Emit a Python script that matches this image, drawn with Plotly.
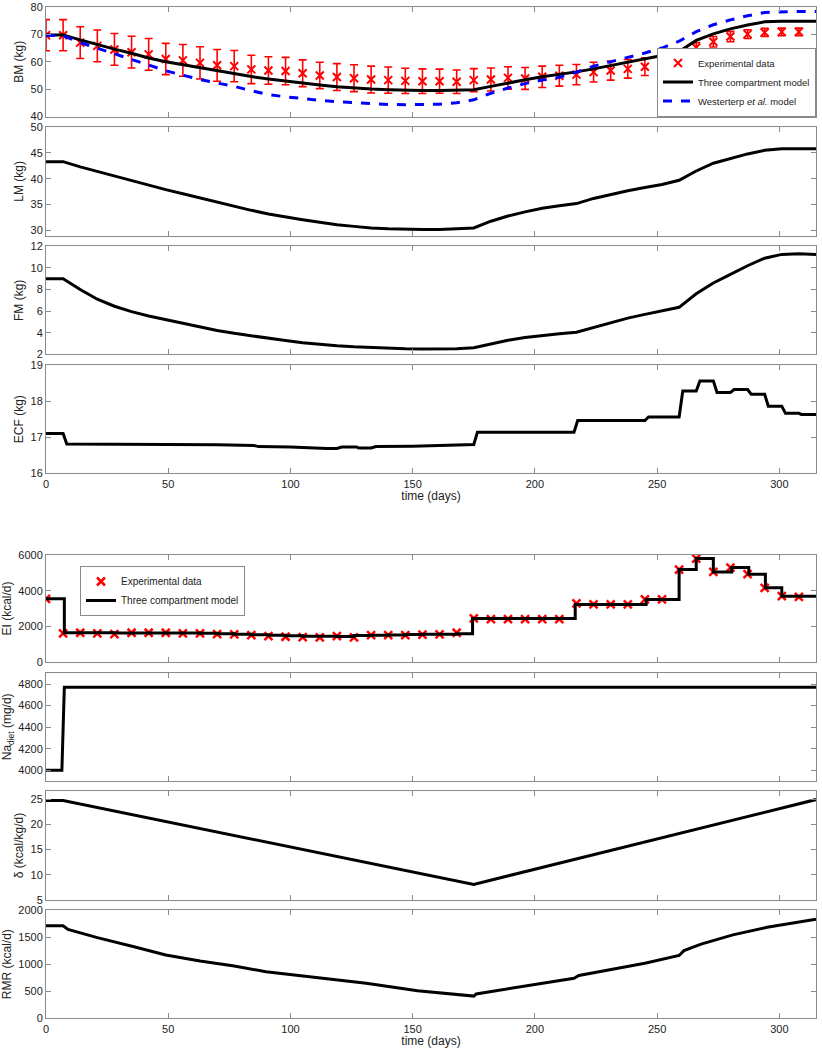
import plotly.graph_objects as go

W, H = 822, 1050

# ---------------- data ----------------
exp_days = [0, 7, 14, 21, 28, 35, 42, 49, 56, 63, 70, 77, 84, 91, 98, 105, 112, 119, 126, 133,
            140, 147, 154, 161, 168, 175, 182, 189, 196, 203, 210, 217, 224, 231, 238, 245,
            252, 259, 266, 273, 280, 287, 294, 301, 308]
bm_exp = [69.7, 69.7, 67.0, 65.8, 64.5, 63.5, 62.7, 61.0, 60.5, 59.6, 58.7, 58.4, 57.2, 56.8,
          56.6, 55.8, 55.0, 54.4, 54.0, 53.5, 53.3, 53.0, 52.9, 52.9, 52.7, 53.3, 53.5, 54.1,
          53.9, 54.5, 54.9, 55.3, 56.2, 56.8, 57.4, 58.2, 59.4, 61.0, 65.2, 67.3, 69.2, 70.1,
          70.7, 70.9, 70.9]
bm_err = [5.7, 5.7, 5.8, 5.8, 5.8, 5.8, 5.8, 5.7, 5.8, 5.9, 5.8, 5.7, 5.2, 5.0, 5.0, 4.9,
          4.8, 4.9, 4.9, 4.9, 4.8, 4.6, 4.5, 4.4, 4.3, 4.2, 4.2, 4.1, 4.0, 3.9, 3.8, 3.7,
          3.6, 3.5, 3.4, 3.2, 2.8, 2.2, 1.8, 1.9, 1.9, 1.6, 1.5, 1.4, 1.4]

model_days = [0, 7, 14, 21, 28, 35, 42, 49, 56, 63, 70, 77, 84, 91, 98, 105, 112, 119, 126, 133,
              140, 147, 154, 161, 168, 175, 182, 189, 196, 203, 210, 217, 224, 231, 238, 245,
              252, 259, 266, 273, 280, 287, 294, 301, 308, 315]
bm_three = [69.8, 69.8, 68.0, 66.2, 64.6, 63.1, 61.4, 60.0, 58.9, 57.7, 56.6, 55.6, 54.6, 53.7,
            52.9, 52.2, 51.5, 50.9, 50.4, 50.0, 49.8, 49.6, 49.5, 49.5, 49.6, 49.8, 51.0, 52.3,
            53.4, 54.5, 55.3, 56.3, 57.4, 58.6, 59.8, 61.0, 62.3, 63.7, 67.8, 70.2, 72.0, 73.4,
            74.6, 74.8, 74.8, 74.8]
bm_west = [69.7, 69.5, 67.0, 65.0, 63.0, 61.0, 58.8, 56.7, 55.0, 53.5, 52.2, 51.0, 49.4, 48.0,
           47.2, 46.5, 45.9, 45.4, 45.0, 44.7, 44.4, 44.3, 44.3, 44.5, 45.0, 46.1, 48.5, 50.4,
           52.0, 53.3, 54.3, 56.2, 58.4, 60.0, 61.5, 63.2, 65.0, 67.5, 71.0, 73.5, 75.3, 76.8,
           78.0, 78.3, 78.4, 78.4]
lm = [43.3, 43.3, 42.3, 41.4, 40.5, 39.6, 38.8, 37.9, 37.1, 36.3, 35.4, 34.6, 33.9, 33.2, 32.6,
      32.1, 31.6, 31.1, 30.8, 30.5, 30.35, 30.25, 30.2, 30.2, 30.3, 30.5, 31.8, 32.8, 33.6, 34.3,
      34.8, 35.2, 36.2, 37.0, 37.7, 38.3, 38.9, 39.7, 41.5, 43.0, 43.9, 44.8, 45.5, 45.8, 45.8,
      45.8]
fm = [9.0, 9.0, 8.0, 7.1, 6.45, 5.95, 5.55, 5.2, 4.85, 4.5, 4.2, 3.94, 3.7, 3.47, 3.27, 3.08,
      2.93, 2.8, 2.7, 2.63, 2.56, 2.52, 2.5, 2.5, 2.52, 2.6, 2.95, 3.3, 3.55, 3.75, 3.9, 4.05,
      4.5, 4.95, 5.35, 5.7, 6.0, 6.35, 7.6, 8.6, 9.4, 10.2, 10.9, 11.25, 11.3, 11.25]

ecf_days = [0, 7, 8.5, 20, 30, 35, 50, 70, 85, 87, 100, 105, 115, 119, 121, 127, 128, 133, 135,
            150, 168, 175, 176.5, 216, 217.5, 245, 246.5, 259, 260.5, 266, 267.5, 273, 274.5,
            280, 281.5, 287, 288.5, 294, 295.5, 301, 302.5, 308, 309, 315]
ecf = [17.1, 17.1, 16.81, 16.81, 16.79, 16.8, 16.8, 16.79, 16.77, 16.74, 16.73, 16.71, 16.69,
       16.69, 16.73, 16.73, 16.7, 16.7, 16.74, 16.75, 16.78, 16.8, 17.14, 17.14, 17.46, 17.46,
       17.56, 17.56, 18.28, 18.28, 18.56, 18.56, 18.24, 18.24, 18.32, 18.32, 18.19, 18.19,
       17.86, 17.86, 17.66, 17.66, 17.63, 17.63]

ei_exp = [3540, 1605, 1640, 1605, 1566, 1640, 1640, 1640, 1605, 1605, 1566, 1550, 1510, 1454,
          1416, 1400, 1380, 1454, 1380, 1510, 1510, 1510, 1530, 1548, 1640, 2444, 2405, 2405,
          2405, 2405, 2405, 3283, 3230, 3230, 3230, 3505, 3505, 5184, 5800, 5050, 5296, 4921,
          4157, 3690, 3652]
ei_step_days = [0, 7.5, 14, 21, 28, 35, 42, 49, 56, 63, 70, 77, 84, 91, 98, 105, 112, 119, 126,
                133, 140, 147, 154, 161, 168, 174.5, 216.5, 245.5, 259, 266, 273, 280.5, 287.5,
                294.3, 301, 315]
ei_model = [3540, 1640, 1640, 1640, 1630, 1630, 1630, 1630, 1620, 1610, 1590, 1560, 1530, 1500,
            1470, 1450, 1440, 1430, 1480, 1500, 1520, 1540, 1550, 1560, 1580, 2440, 3230, 3500,
            5180, 5800, 5050, 5300, 4920, 4160, 3690, 3690]

na_days = [0, 6.5, 7.5, 315]
na_diet = [4000, 4000, 4770, 4770]

delta_days = [0, 7, 175, 315]
delta = [24.7, 24.7, 8.1, 24.9]

rmr_days = [0, 7, 9, 21, 36, 49, 63, 77, 90, 104, 118, 131, 152, 175, 176, 216, 218, 245, 259,
            261, 268, 273, 281, 295, 315]
rmr = [1710, 1710, 1640, 1490, 1320, 1170, 1060, 966, 860, 790, 725, 647, 510, 410, 450, 740,
       790, 1016, 1160, 1250, 1370, 1434, 1540, 1680, 1830]

x_ticks = [0, 50, 100, 150, 200, 250, 300]

# ---------------- layout geometry (reference pixels) ----------------
panels = [  # top, bottom
    (7, 116.5), (127, 235.7), (246.3, 354.3), (365, 473.3),
    (555, 662), (672.7, 781), (791, 900), (910, 1018.3),
]

def px(x):
    return min(1.0, max(0.0, x / W))

def py(y):
    return min(1.0, max(0.0, 1 - y / H))

x_dom = [px(46), px(816)]

ylabels = ["BM (kg)", "LM (kg)", "FM (kg)", "ECF (kg)", "EI (kcal/d)",
           "Na<sub>diet</sub> (mg/d)", "δ (kcal/kg/d)", "RMR (kcal/d)"]
yranges = [[40, 80], [29, 50], [2, 12], [16, 19], [0, 6000], [3900, 4905], [5, 26.6], [0, 2000]]
ytickvals = [[40, 50, 60, 70, 80], [30, 35, 40, 45, 50], [2, 4, 6, 8, 10, 12], [16, 17, 18, 19],
             [0, 2000, 4000, 6000], [4000, 4200, 4400, 4600, 4800], [5, 10, 15, 20, 25],
             [0, 500, 1000, 1500, 2000]]

FONT = "Liberation Sans, Arial, sans-serif"
AXC = "#8a8a8a"
TXT = "#222222"

fig = go.Figure()

def ax(i):
    return ("x" if i == 1 else f"x{i}"), ("y" if i == 1 else f"y{i}")

# BM panel
xa, ya = ax(1)
fig.add_trace(go.Scatter(
    x=exp_days, y=bm_exp, mode="markers", name="Experimental data", xaxis=xa, yaxis=ya,
    marker=dict(symbol="x-thin", size=8, color="red", line=dict(width=2, color="red")),
    error_y=dict(type="data", array=bm_err, color="red", thickness=1.6, width=4),
    legend="legend"))
fig.add_trace(go.Scatter(
    x=model_days, y=bm_three, mode="lines", name="Three compartment model", xaxis=xa, yaxis=ya,
    line=dict(color="black", width=3), legend="legend"))
fig.add_trace(go.Scatter(
    x=model_days, y=bm_west, mode="lines", name="Westerterp <i>et al.</i> model", xaxis=xa,
    yaxis=ya, line=dict(color="#0000ff", width=3, dash="dash"), legend="legend"))

# LM, FM, ECF
for i, (xd, yd) in zip([2, 3, 4], [(model_days, lm), (model_days, fm), (ecf_days, ecf)]):
    xa, ya = ax(i)
    fig.add_trace(go.Scatter(x=xd, y=yd, mode="lines", xaxis=xa, yaxis=ya, showlegend=False,
                             line=dict(color="black", width=3)))

# EI
xa, ya = ax(5)
fig.add_trace(go.Scatter(
    x=exp_days, y=ei_exp, mode="markers", name="Experimental data", xaxis=xa, yaxis=ya,
    marker=dict(symbol="x-thin", size=8, color="red", line=dict(width=2.5, color="red")),
    legend="legend2"))
fig.add_trace(go.Scatter(
    x=ei_step_days, y=ei_model, mode="lines", name="Three compartment model", xaxis=xa, yaxis=ya,
    line=dict(color="black", width=3, shape="hv"), legend="legend2"))

for i, (xd, yd) in zip([6, 7, 8], [(na_days, na_diet), (delta_days, delta), (rmr_days, rmr)]):
    xa, ya = ax(i)
    fig.add_trace(go.Scatter(x=xd, y=yd, mode="lines", xaxis=xa, yaxis=ya, showlegend=False,
                             line=dict(color="black", width=3)))

layout = dict(
    width=W, height=H, margin=dict(l=0, r=0, t=0, b=0, autoexpand=False),
    paper_bgcolor="white", plot_bgcolor="white",
    font=dict(family=FONT, size=11, color=TXT),
    legend=dict(x=px(816), y=py(116.5), xanchor="right", yanchor="bottom",
                bgcolor="white", bordercolor=AXC, borderwidth=1,
                font=dict(size=9.5, color=TXT), tracegroupgap=0, itemwidth=30),
    legend2=dict(x=px(80), y=py(566), xanchor="left", yanchor="top",
                 bgcolor="white", bordercolor=AXC, borderwidth=1,
                 font=dict(size=10, color=TXT), tracegroupgap=0, itemwidth=30),
)

for i in range(1, 9):
    top, bot = panels[i - 1]
    xk = "xaxis" if i == 1 else f"xaxis{i}"
    yk = "yaxis" if i == 1 else f"yaxis{i}"
    yname = "y" if i == 1 else f"y{i}"
    xname = "x" if i == 1 else f"x{i}"
    show_x = i in (4, 8)
    xdef = dict(
        domain=x_dom, anchor=yname, range=[0, 315], tickvals=x_ticks, automargin=False,
        showticklabels=show_x, ticks="inside", ticklen=5, tickcolor=AXC,
        showline=True, linecolor=AXC, linewidth=1, mirror="ticks",
        showgrid=False, zeroline=False, tickfont=dict(size=11, color=TXT),
    )
    if show_x:
        xdef["title"] = dict(text="time (days)", font=dict(size=12, color=TXT), standoff=2)
    layout[xk] = xdef
    layout[yk] = dict(
        domain=[py(bot), py(top)], anchor=xname, range=yranges[i - 1],
        tickvals=ytickvals[i - 1], ticks="inside", ticklen=5, tickcolor=AXC, automargin=False,
        showline=True, linecolor=AXC, linewidth=1, mirror="ticks",
        showgrid=False, zeroline=False, tickfont=dict(size=11, color=TXT),
        title=dict(text=ylabels[i - 1], font=dict(size=12, color=TXT), standoff=4),
    )

fig.update_layout(**layout)
fig.write_html("out.html", config={"displayModeBar": False},
               post_script="document.body.style.margin='0px';document.body.style.padding='0px';")
